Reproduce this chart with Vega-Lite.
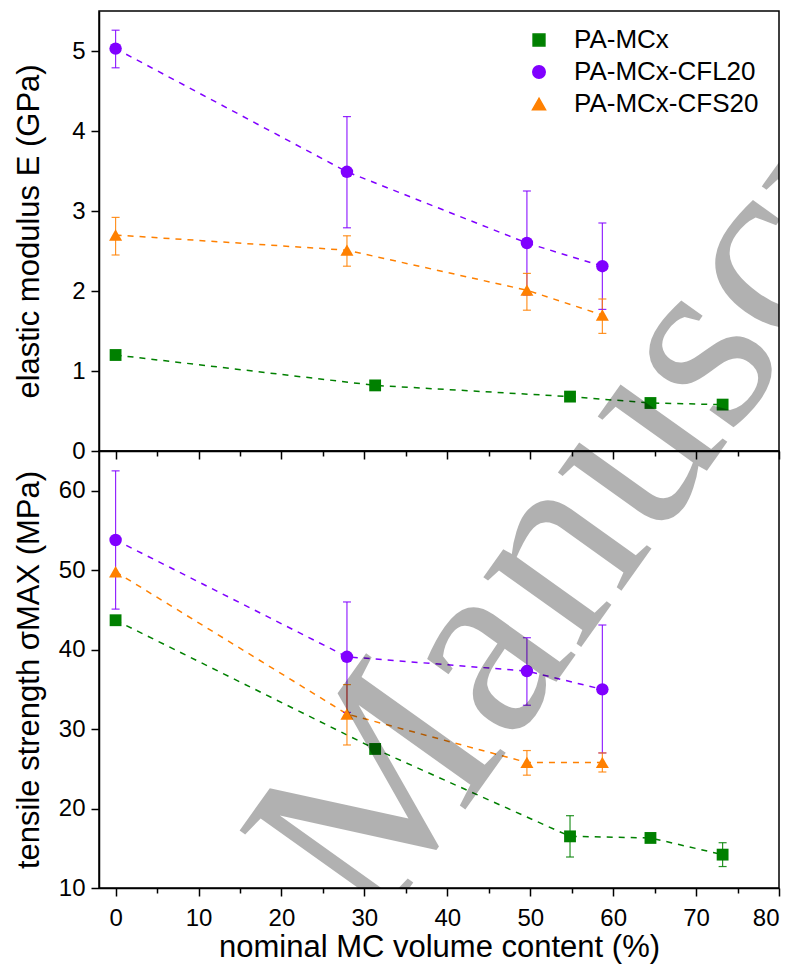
{
  "$schema": "https://vega.github.io/schema/vega-lite/v6.json",
  "padding": {"left": 12, "top": 10, "right": 4, "bottom": 5},
  "spacing": 0,
  "bounds": "flush",
  "datasets": {
    "d": [
      {"panel": "E", "series": "PA-MCx", "x": 0, "y": 1.2},
      {"panel": "E", "series": "PA-MCx", "x": 31.3, "y": 0.82},
      {"panel": "E", "series": "PA-MCx", "x": 54.8, "y": 0.68},
      {"panel": "E", "series": "PA-MCx", "x": 64.5, "y": 0.6},
      {"panel": "E", "series": "PA-MCx", "x": 73.2, "y": 0.58},
      {"panel": "E", "series": "PA-MCx-CFL20", "x": 0, "y": 5.03, "lo": 4.79, "hi": 5.26},
      {"panel": "E", "series": "PA-MCx-CFL20", "x": 27.9, "y": 3.49, "lo": 2.79, "hi": 4.18},
      {"panel": "E", "series": "PA-MCx-CFL20", "x": 49.6, "y": 2.6, "lo": 1.95, "hi": 3.25},
      {"panel": "E", "series": "PA-MCx-CFL20", "x": 58.7, "y": 2.31, "lo": 1.77, "hi": 2.85},
      {"panel": "E", "series": "PA-MCx-CFS20", "x": 0, "y": 2.7, "lo": 2.45, "hi": 2.92},
      {"panel": "E", "series": "PA-MCx-CFS20", "x": 27.9, "y": 2.51, "lo": 2.31, "hi": 2.69},
      {"panel": "E", "series": "PA-MCx-CFS20", "x": 49.6, "y": 2.01, "lo": 1.76, "hi": 2.22},
      {"panel": "E", "series": "PA-MCx-CFS20", "x": 58.7, "y": 1.7, "lo": 1.47, "hi": 1.9},
      {"panel": "S", "series": "PA-MCx", "x": 0, "y": 43.7},
      {"panel": "S", "series": "PA-MCx", "x": 31.3, "y": 27.5},
      {"panel": "S", "series": "PA-MCx", "x": 54.8, "y": 16.5, "lo": 13.9, "hi": 19.1},
      {"panel": "S", "series": "PA-MCx", "x": 64.5, "y": 16.3},
      {"panel": "S", "series": "PA-MCx", "x": 73.2, "y": 14.2, "lo": 12.7, "hi": 15.7},
      {"panel": "S", "series": "PA-MCx-CFL20", "x": 0, "y": 53.8, "lo": 45.1, "hi": 62.5},
      {"panel": "S", "series": "PA-MCx-CFL20", "x": 27.9, "y": 39.1, "lo": 32.1, "hi": 46.0},
      {"panel": "S", "series": "PA-MCx-CFL20", "x": 49.6, "y": 37.3, "lo": 33.0, "hi": 41.5},
      {"panel": "S", "series": "PA-MCx-CFL20", "x": 58.7, "y": 35.0, "lo": 27.0, "hi": 43.1},
      {"panel": "S", "series": "PA-MCx-CFS20", "x": 0, "y": 49.8},
      {"panel": "S", "series": "PA-MCx-CFS20", "x": 27.9, "y": 31.9, "lo": 28.0, "hi": 35.6},
      {"panel": "S", "series": "PA-MCx-CFS20", "x": 49.6, "y": 25.8, "lo": 24.2, "hi": 27.3},
      {"panel": "S", "series": "PA-MCx-CFS20", "x": 58.7, "y": 25.8, "lo": 24.6, "hi": 27.0}
    ],
    "wm": [{"t": "Manuscript"}]
  },
  "resolve": {"scale": {"color": "shared", "shape": "shared", "size": "shared"}, "legend": {"color": "shared", "shape": "shared"}},
  "vconcat": [
    {
      "width": 680,
      "height": 440,
      "layer": [
        {
          "data": {"name": "d"},
          "transform": [{"filter": "datum.panel === 'E'"}],
          "mark": {"type": "line", "strokeDash": [6, 6], "strokeWidth": 1.5},
          "encoding": {
            "x": {"field": "x", "type": "quantitative", "scale": {"domain": [-2, 80], "nice": false, "zero": false},
              "axis": {"values": [0,5,10,15,20,25,30,35,40,45,50,55,60,65,70,75,80], "labels": false, "title": null,
                "tickSize": {"condition": {"test": "datum.value % 10 === 0", "value": 8}, "value": 5}}},
            "y": {"field": "y", "type": "quantitative", "scale": {"domain": [0, 5.5], "nice": false},
              "axis": {"values": [0,0.5,1,1.5,2,2.5,3,3.5,4,4.5,5,5.5], "title": "elastic modulus E (GPa)",
                "labelExpr": "datum.value % 1 === 0 ? format(datum.value, 'd') : ''",
                "tickSize": {"condition": {"test": "datum.value % 1 === 0", "value": 8}, "value": 5},
                "labelPadding": 6, "titlePadding": 26}},
            "color": {"field": "series", "type": "nominal",
              "scale": {"domain": ["PA-MCx", "PA-MCx-CFL20", "PA-MCx-CFS20"], "range": ["#008000", "#8000ff", "#ff8000"]},
              "legend": {"title": null, "orient": "none", "legendX": 427, "legendY": 16,
                "symbolStrokeWidth": 1.5, "symbolOpacity": 1, "labelLimit": 400,
                "labelFont": "Liberation Sans", "labelFontSize": 26, "labelColor": "#000", "labelOffset": 22, "rowPadding": 6}}
          }
        },
        {
          "data": {"name": "d"},
          "transform": [{"filter": "datum.panel === 'E' && datum.lo != null"}],
          "mark": {"type": "rule", "strokeWidth": 1.2, "opacity": 0.85},
          "encoding": {
            "x": {"field": "x", "type": "quantitative"},
            "y": {"field": "lo", "type": "quantitative"},
            "y2": {"field": "hi"},
            "color": {"field": "series", "type": "nominal", "legend": null}
          }
        },
        {
          "data": {"name": "d"},
          "transform": [{"filter": "datum.panel === 'E' && datum.lo != null"}],
          "mark": {"type": "tick", "orient": "horizontal", "size": 8, "thickness": 1.2, "opacity": 0.85},
          "encoding": {
            "x": {"field": "x", "type": "quantitative"},
            "y": {"field": "lo", "type": "quantitative"},
            "color": {"field": "series", "type": "nominal", "legend": null}
          }
        },
        {
          "data": {"name": "d"},
          "transform": [{"filter": "datum.panel === 'E' && datum.lo != null"}],
          "mark": {"type": "tick", "orient": "horizontal", "size": 8, "thickness": 1.2, "opacity": 0.85},
          "encoding": {
            "x": {"field": "x", "type": "quantitative"},
            "y": {"field": "hi", "type": "quantitative"},
            "color": {"field": "series", "type": "nominal", "legend": null}
          }
        },
        {
          "data": {"name": "d"},
          "transform": [{"filter": "datum.panel === 'E'"}],
          "mark": {"type": "point", "filled": true, "opacity": 1},
          "encoding": {
            "x": {"field": "x", "type": "quantitative"},
            "y": {"field": "y", "type": "quantitative"},
            "color": {"field": "series", "type": "nominal", "legend": null},
            "shape": {"field": "series", "type": "nominal",
              "scale": {"domain": ["PA-MCx", "PA-MCx-CFL20", "PA-MCx-CFS20"], "range": ["square", "circle", "triangle-up"]},
              "legend": null},
            "size": {"field": "series", "type": "nominal",
              "scale": {"domain": ["PA-MCx", "PA-MCx-CFL20", "PA-MCx-CFS20"], "range": [140, 170, 240]}, "legend": null}
          }
        },
        {
          "data": {"name": "wm"},
          "mark": {"type": "text", "clip": true, "font": "Liberation Serif", "fontSize": 262, "angle": 305.5, "align": "center", "baseline": "middle", "color": "#000", "opacity": 0.3},
          "encoding": {
            "x": {"datum": 65.3, "type": "quantitative"},
            "y": {"datum": 0.585, "type": "quantitative"},
            "text": {"field": "t"}
          }
        }
      ]
    },
    {
      "width": 680,
      "height": 437,
      "layer": [
        {
          "data": {"name": "d"},
          "transform": [{"filter": "datum.panel === 'S'"}],
          "mark": {"type": "line", "strokeDash": [6, 6], "strokeWidth": 1.5},
          "encoding": {
            "x": {"field": "x", "type": "quantitative", "scale": {"domain": [-2, 80], "nice": false, "zero": false},
              "axis": {"values": [0,5,10,15,20,25,30,35,40,45,50,55,60,65,70,75,80], "title": "nominal MC volume content (%)",
                "labelExpr": "datum.value % 10 === 0 ? datum.label : ''",
                "tickSize": {"condition": {"test": "datum.value % 10 === 0", "value": 8}, "value": 5},
                "labelPadding": 10, "titlePadding": 2}},
            "y": {"field": "y", "type": "quantitative", "scale": {"domain": [10, 65], "nice": false, "zero": false},
              "axis": {"values": [10,15,20,25,30,35,40,45,50,55,60,65], "title": "tensile strength σMAX (MPa)",
                "labelExpr": "datum.value % 10 === 0 ? datum.label : ''",
                "tickSize": {"condition": {"test": "datum.value % 10 === 0", "value": 8}, "value": 5},
                "labelPadding": 6, "titlePadding": 13}},
            "color": {"field": "series", "type": "nominal", "legend": null}
          }
        },
        {
          "data": {"name": "d"},
          "transform": [{"filter": "datum.panel === 'S' && datum.lo != null"}],
          "mark": {"type": "rule", "strokeWidth": 1.2, "opacity": 0.85},
          "encoding": {
            "x": {"field": "x", "type": "quantitative"},
            "y": {"field": "lo", "type": "quantitative"},
            "y2": {"field": "hi"},
            "color": {"field": "series", "type": "nominal", "legend": null}
          }
        },
        {
          "data": {"name": "d"},
          "transform": [{"filter": "datum.panel === 'S' && datum.lo != null"}],
          "mark": {"type": "tick", "orient": "horizontal", "size": 8, "thickness": 1.2, "opacity": 0.85},
          "encoding": {
            "x": {"field": "x", "type": "quantitative"},
            "y": {"field": "lo", "type": "quantitative"},
            "color": {"field": "series", "type": "nominal", "legend": null}
          }
        },
        {
          "data": {"name": "d"},
          "transform": [{"filter": "datum.panel === 'S' && datum.lo != null"}],
          "mark": {"type": "tick", "orient": "horizontal", "size": 8, "thickness": 1.2, "opacity": 0.85},
          "encoding": {
            "x": {"field": "x", "type": "quantitative"},
            "y": {"field": "hi", "type": "quantitative"},
            "color": {"field": "series", "type": "nominal", "legend": null}
          }
        },
        {
          "data": {"name": "d"},
          "transform": [{"filter": "datum.panel === 'S'"}],
          "mark": {"type": "point", "filled": true, "opacity": 1},
          "encoding": {
            "x": {"field": "x", "type": "quantitative"},
            "y": {"field": "y", "type": "quantitative"},
            "color": {"field": "series", "type": "nominal", "legend": null},
            "shape": {"field": "series", "type": "nominal", "legend": null},
            "size": {"field": "series", "type": "nominal", "legend": null}
          }
        },
        {
          "data": {"name": "wm"},
          "mark": {"type": "text", "clip": true, "font": "Liberation Serif", "fontSize": 262, "angle": 305.5, "align": "center", "baseline": "middle", "color": "#000", "opacity": 0.3},
          "encoding": {
            "x": {"datum": 65.3, "type": "quantitative"},
            "y": {"datum": 70.84, "type": "quantitative"},
            "text": {"field": "t"}
          }
        }
      ]
    }
  ],
  "config": {
    "view": {"stroke": "#000", "strokeWidth": 1.5},
    "axis": {"domainColor": "#000", "domainWidth": 1.5, "tickColor": "#000", "tickWidth": 1.5, "grid": false,
      "labelFont": "Liberation Sans", "labelFontSize": 24, "labelColor": "#000",
      "titleFont": "Liberation Sans", "titleFontSize": 31, "titleFontWeight": "normal", "titleColor": "#000"}
  }
}
